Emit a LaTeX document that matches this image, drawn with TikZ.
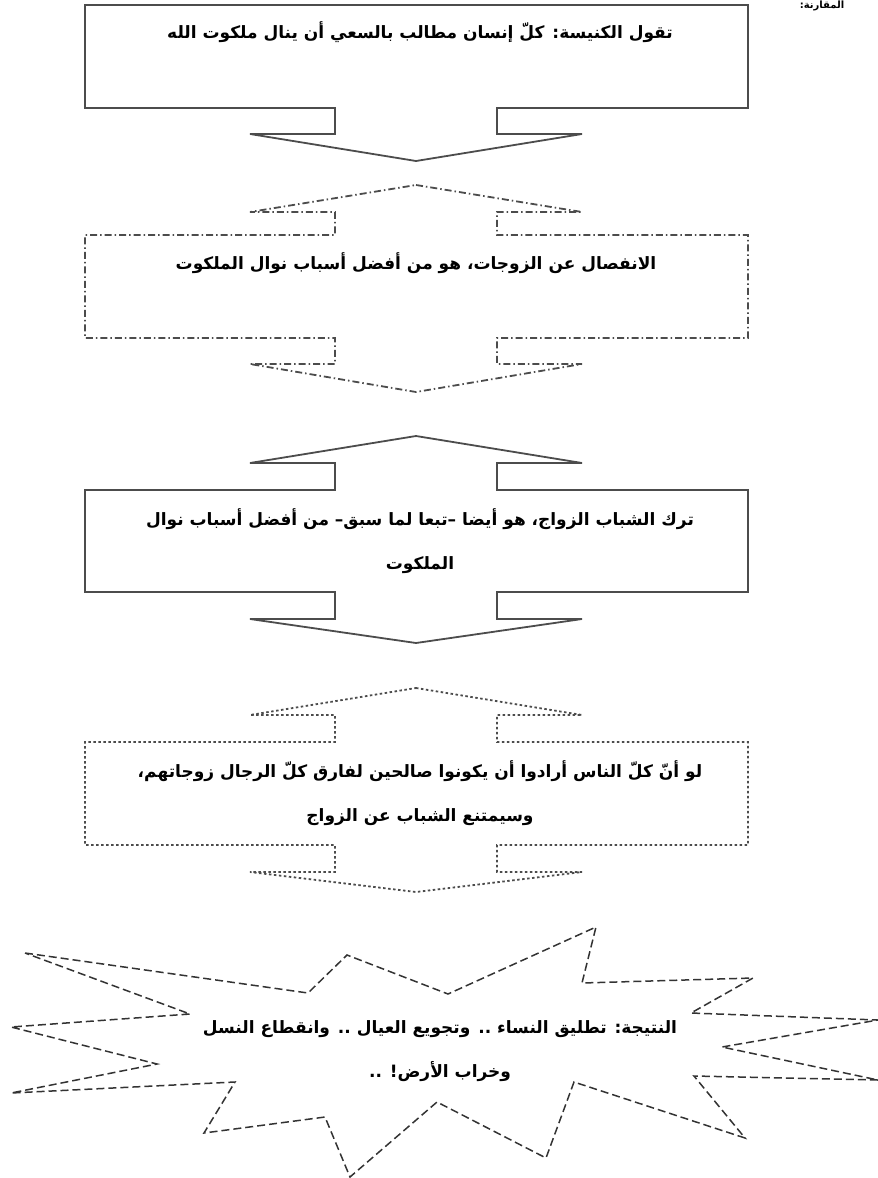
\documentclass[tikz,border=0pt]{standalone}
\usepackage{fontspec}
\usepackage{tikz}
\usetikzlibrary{positioning}
\newfontfamily\arabicfont[Script=Arabic]{DejaVu Sans}
\TeXXeTstate=1

% box with an arrow below: style, box top, box bottom, head base, tip
\newcommand{\downarrowbox}[5]{%
  \draw[#1] (85,#2) -- (748,#2) -- (748,#3) -- (497,#3) -- (497,#4) -- (582,#4)
    -- (416,#5) -- (250,#4) -- (335,#4) -- (335,#3) -- (85,#3) -- cycle;}
% box with arrows above and below: style, top tip, head base, box top, box bottom, head base, tip
\newcommand{\dualarrowbox}[7]{%
  \draw[#1] (416,#2) -- (582,#3) -- (497,#3) -- (497,#4) -- (748,#4) -- (748,#5)
    -- (497,#5) -- (497,#6) -- (582,#6) -- (416,#7) -- (250,#6) -- (335,#6)
    -- (335,#5) -- (85,#5) -- (85,#4) -- (335,#4) -- (335,#3) -- (250,#3) -- cycle;}

\begin{document}
\begin{tikzpicture}[x=1pt, y=-1pt,
    boxline/.style={draw=black!70, line width=1.8pt, line join=miter},
    dashdotline/.style={boxline, dash pattern=on 7pt off 3pt on 1.5pt off 3pt},
    dotline/.style={boxline, dash pattern=on 2.5pt off 2.5pt},
    burstline/.style={draw=black!80, line width=1.5pt, dash pattern=on 8pt off 4pt},
    label/.style={font=\arabicfont\bfseries\fontsize{17}{44}\selectfont, align=center, inner sep=0pt}
]
\useasboundingbox (0,0) rectangle (878,1178);

% heading at the top right
\node [label, font=\arabicfont\bfseries\fontsize{10}{12}\selectfont, anchor=north] (heading) at (822,1) {\beginR المقارنة:\endR};

% Row 1: the church
\downarrowbox{boxline}{5}{108}{134}{161}
\node [label] (church) at (420,32) {\beginR تقول الكنيسة: كلّ إنسان مطالب بالسعي أن ينال ملكوت الله\endR};

% Row 2: leaving the wives
\dualarrowbox{dashdotline}{185}{212}{235}{338}{364}{392}
\node [label] (separation) at (416,263) {\beginR الانفصال عن الزوجات، هو من أفضل أسباب نوال الملكوت\endR};

% Row 3: youth not marrying
\dualarrowbox{boxline}{436}{463}{490}{592}{619}{643}
\node [label] (youth) at (420,541) {\beginR ترك الشباب الزواج، هو أيضا –تبعا لما سبق– من أفضل أسباب نوال\endR\\\beginR الملكوت\endR};

% Row 4: if everyone
\dualarrowbox{dotline}{688}{715}{742}{845}{872}{892}
\node [label] (everyone) at (420,793) {\beginR لو أنّ كلّ الناس أرادوا أن يكونوا صالحين لفارق كلّ الرجال زوجاتهم،\endR\\\beginR وسيمتنع الشباب عن الزواج\endR};

% Result burst
\draw [burstline] (25,953) -- (308,993) -- (347,955) -- (448,994) -- (596,927) -- (582,983)
  -- (753,978) -- (691,1013) -- (878,1020) -- (722,1047) -- (878,1080) -- (694,1076)
  -- (745,1138) -- (574,1082) -- (546,1158) -- (437,1102) -- (350,1177) -- (325,1117)
  -- (204,1133) -- (235,1082) -- (11,1093) -- (157,1064) -- (11,1027) -- (190,1014) -- cycle;
\node [label] (result) at (440,1051) {\beginR النتيجة: تطليق النساء .. وتجويع العيال .. وانقطاع النسل\endR\\.. \beginR وخراب الأرض!\endR};
\end{tikzpicture}
\end{document}
